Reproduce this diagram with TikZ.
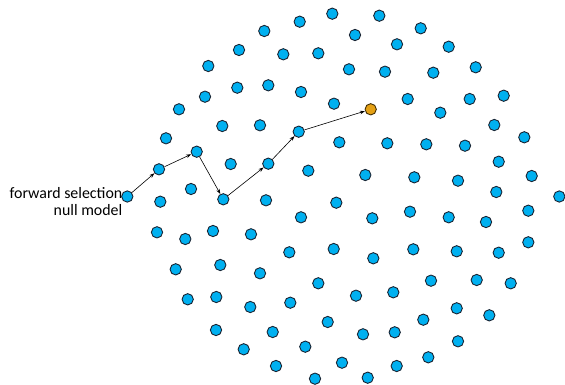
\documentclass[tikz,border=0pt]{standalone}
\usepackage{fontspec}
\setmainfont{Carlito}
\usetikzlibrary{arrows.meta}
\definecolor{dotblue}{RGB}{0,176,240}
\definecolor{dotorange}{RGB}{228,160,20}
\definecolor{dotedge}{RGB}{25,35,50}
\tikzset{
  dot/.style={circle,minimum size=11.3pt,inner sep=0pt,fill=dotblue,draw=dotedge,line width=0.9pt},
  goaldot/.style={dot,fill=dotorange,draw=black!70!dotorange},
  walk/.style={-{Stealth[length=5pt,width=3.6pt]},line width=0.6pt,black},
  lbl/.style={align=right,inner sep=0pt,font=\fontsize{15.9}{16.6}\selectfont}
}
\begin{document}
\begin{tikzpicture}[x=1pt,y=-1pt]
\useasboundingbox (0,0) rectangle (565,385);
\foreach \x/\y [count=\i] in {
299.7/21.7, 332.3/13.7, 379.3/15.7, 420.7/28.3, 264.3/31, 355/35, 239/50, 283.3/54.3,
318.3/53.3, 397/44.3, 448.7/46.7, 208.3/66, 349/69.3, 385/71.7, 433.3/72.7, 475.7/67.3,
237.3/87.7, 205/96.7, 268.3/85.3, 301/92, 334/103.7, 407.7/99, 469.7/99, 503.7/95.7,
179/109.3, 440.3/112.7, 222.3/126, 260/125.3, 494.3/125, 166/138.3, 339.3/142.3, 387.3/143.3,
426.3/144.3, 465/145.7, 524.3/137.3, 230.7/164, 308.3/170.7, 365.3/175, 414.3/177.3, 458/180.7,
498.7/161.7, 531.7/176, 191/189, 496.3/192, 559.3/196.5,
160.3/201.7, 266/200.3, 336.3/202.7, 410/211.7, 301/217.3, 372.3/218.3, 448.7/217.3, 486/222,
528.3/210.7, 157/232.3, 185.3/239, 213/231, 251/234.3, 289.3/252.3, 333.7/249, 373.3/258.3,
413.3/249.3, 456.7/251.3, 498.7/252.7, 528.3/242.3, 175.7/269.3, 220.3/265, 260/273.3, 318.3/283.3,
356/295.7, 393.3/292.3, 431/280.7, 476.7/280, 510.7/283.3, 187.7/299.3, 216.3/297, 250.3/307,
290.3/302.7, 327.7/322, 423.3/319.7, 456.7/308.3, 489.3/315.3, 216/330, 272.7/332, 363/334.3,
394.7/332.3, 458/341.3, 243.7/349.3, 305.3/346.7, 428.3/357.3, 276/366, 342/362.7, 396.7/366,
315/378.7, 367.7/377.7}
  \node[dot] (d\i) at (\x,\y) {};
% walk
\node[dot] (p0) at (127.3,196.5) {};
\node[dot] (p1) at (159,169.3) {};
\node[dot] (p2) at (196.7,151.7) {};
\node[dot] (p3) at (223.3,199.3) {};
\node[dot] (p4) at (268.3,163.7) {};
\node[dot] (p5) at (298.7,131.7) {};
\node[goaldot] (g) at (370.7,109.3) {};
\draw[walk] (p0) -- (p1);
\draw[walk] (p1) -- (p2);
\draw[walk] (p2) -- (p3);
\draw[walk] (p3) -- (p4);
\draw[walk] (p4) -- (p5);
\draw[walk] (p5) -- (g);
\node[lbl,anchor=east] (label) at (122.5,201.5) {forward selection\\null model};
\end{tikzpicture}
\end{document}
